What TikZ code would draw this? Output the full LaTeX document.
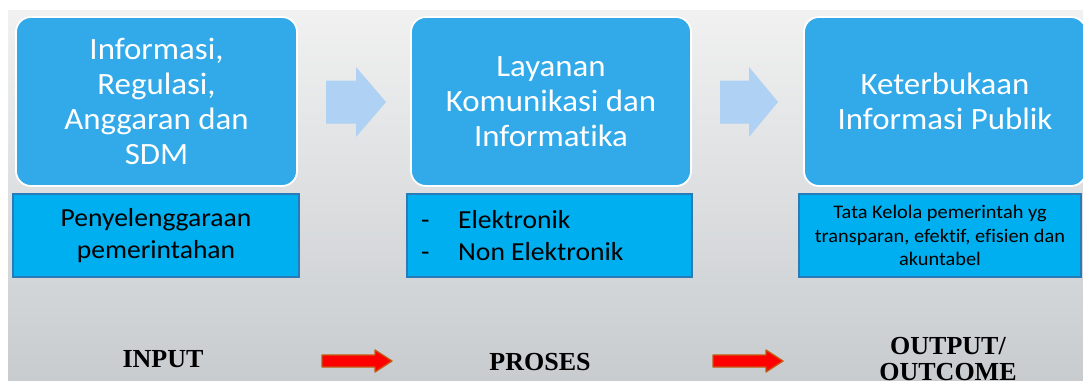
\documentclass[tikz,border=0pt]{standalone}
\usepackage{fontspec}
\setmainfont[FakeStretch=1.06,RawFeature=-liga]{Carlito}
\newfontfamily\labelfont{Liberation Serif}
\definecolor{boxblue}{HTML}{32AAE9}
\definecolor{rectblue}{HTML}{00AFEF}
\definecolor{rectedge}{HTML}{2A7AB8}
\definecolor{lightarrow}{HTML}{AED1F4}
\definecolor{redarrow}{HTML}{FF0000}
\definecolor{rededge}{HTML}{C55A11}
\definecolor{bgtop}{HTML}{F1F1F1}
\definecolor{bgbot}{HTML}{C8CCCF}
\begin{document}
\begin{tikzpicture}[x=1pt,y=-1pt,
  topbox/.style={draw=white,line width=1.8pt,fill=boxblue,rounded corners=15pt,
    minimum height=169pt,inner sep=0pt,align=center,text=white,
    font=\fontsize{31}{35}\selectfont},
  subbox/.style={draw=rectedge,line width=1.5pt,fill=rectblue,
    minimum height=83pt,inner sep=0pt,text=black},
  lbl/.style={font=\labelfont\bfseries\fontsize{26}{26}\selectfont,inner sep=0pt,align=center,anchor=base},
  blockarrow/.style={fill=lightarrow},
  redarr/.style={fill=redarrow,draw=rededge,line width=1.3pt,line join=round}
]
\useasboundingbox (0,0) rectangle (1083,380);
\clip (0,0) rectangle (1083,380);
\fill[white] (0,0) rectangle (1083,380);
\shade[top color=bgtop,bottom color=bgbot] (8,10) rectangle (1083,380);

% top rounded boxes
\node[topbox,minimum width=281pt] (b1) at (156.5,101.5) {Informasi,\\Regulasi,\\Anggaran dan\\SDM};
\node[topbox,minimum width=280pt] (b2) at (551,101.5) {Layanan\\Komunikasi dan\\Informatika};
\node[topbox,minimum width=282pt] (b3) at (945,101.5) {Keterbukaan\\Informasi Publik};

% sub rectangles
\node[subbox,minimum width=286pt,align=center,font=\fontsize{26}{31.5}\selectfont] (r1) at (156,235.5) {Penyelenggaraan\\pemerintahan};
\node[subbox,minimum width=285pt] (r2) at (549.5,235.5) {};
\node[anchor=west,inner sep=0pt,align=left,font=\fontsize{26}{31.5}\selectfont] (r2t) at (421,235.5)
  {\makebox[37pt][l]{-}Elektronik\\\makebox[37pt][l]{-}Non Elektronik};
\node[subbox,minimum width=282pt,align=center,font=\fontsize{19.2}{23.5}\selectfont] (r3) at (940,235.5) {Tata Kelola pemerintah yg\\transparan, efektif, efisien dan\\akuntabel};

% light blue block arrows
\coordinate (la1) at (326,102);
\fill[blockarrow] (la1) ++(0,-21.5) -- ++(30,0) -- ++(0,-13.5) -- (386,102) -- (356,137) -- ++(0,-13.5) -- (326,123.5) -- cycle;
\coordinate (la2) at (720,102);
\fill[blockarrow] (la2) ++(0,-21.5) -- ++(29,0) -- ++(0,-13.5) -- (778,102) -- (749,137) -- ++(0,-13.5) -- (720,123.5) -- cycle;

% bottom labels
\node[lbl] (in) at (163,367) {INPUT};
\node[lbl] (pr) at (540,370) {PROSES};
\node[lbl] (out) at (948,354) {OUTPUT/};
\node[lbl] (outc) at (948,380) {OUTCOME};

% red arrows
\draw[redarr] (322,355) -- (375,355) -- (375,350) -- (392,361) -- (375,372) -- (375,367) -- (322,367) -- cycle;
\draw[redarr] (713,355) -- (766,355) -- (766,350) -- (783,361) -- (766,372) -- (766,367) -- (713,367) -- cycle;
\end{tikzpicture}
\end{document}
